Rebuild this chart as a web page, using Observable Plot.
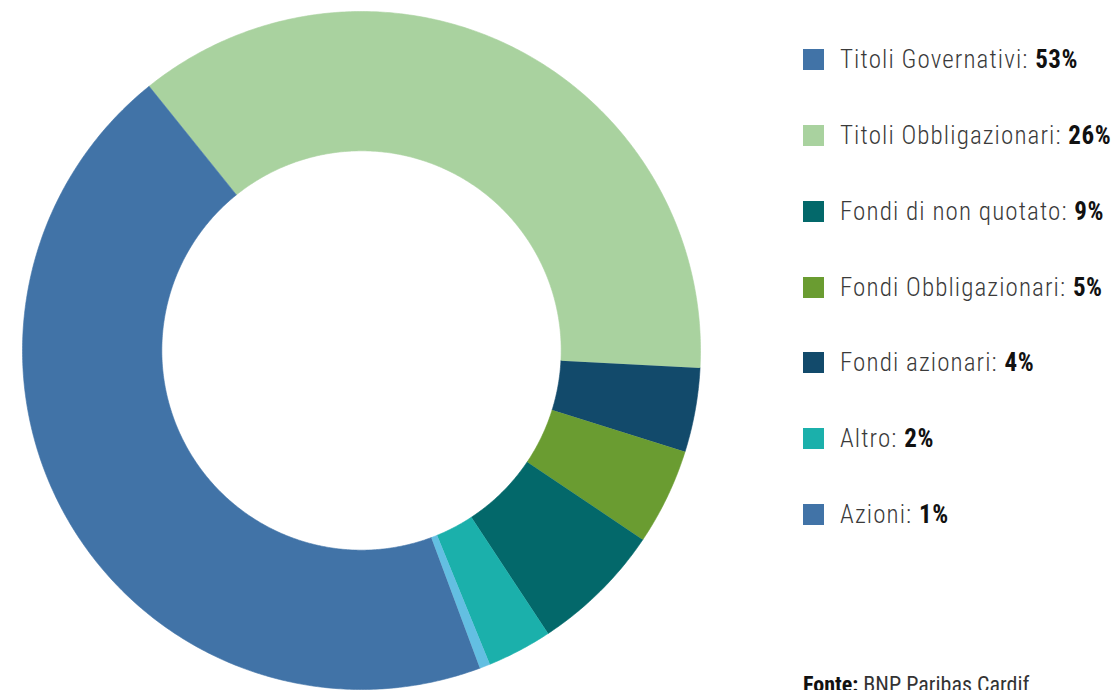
<!DOCTYPE html>
<html>
<head>
<meta charset="utf-8">
<script src="https://cdn.jsdelivr.net/npm/d3@7"></script>
<script src="https://cdn.jsdelivr.net/npm/@observablehq/plot@0.6"></script>
<style>
  html, body { margin: 0; padding: 0; background: #fff; }
  #wrap { position: relative; width: 1116px; height: 690px; overflow: hidden; }
  #chart { position: absolute; left: 0; top: 0; }
  .row { position: absolute; left: 803px; height: 22px; display: flex; align-items: center; white-space: nowrap;
         font-family: "Liberation Sans Narrow", "Roboto Condensed", "DejaVu Sans Condensed", sans-serif; font-size: 25px;
         font-weight: 300; letter-spacing: 1.1px; color: #3a3a3a; }
  .sw { width: 21px; height: 21px; margin-right: 16px; flex: none; }
  .row b { color: #111; font-weight: 700; letter-spacing: 0.6px; }
  #foot { position: absolute; left: 803px; top: 672px; white-space: nowrap;
          font-family: "Liberation Sans Narrow", "Roboto Condensed", "DejaVu Sans Condensed", sans-serif; font-size: 22px; color: #333; }
  #foot b { color: #111; }
</style>
</head>
<body>
<div id="wrap">
  <div id="chart"></div>
</div>
<script>
// Slices in clockwise order as drawn (shares read from the arcs, in %)
const sliceLabels = ["Titoli Obbligazionari", "Fondi azionari", "Fondi Obbligazionari", "Fondi di non quotato", "Altro", "Azioni", "Titoli Governativi"];
const sliceShares = [36.6, 4.0, 4.6, 6.3, 3.1, 0.5, 44.9];
const sliceColors = ["#a9d29f", "#124a6b", "#6a9c31", "#03686a", "#1bb0ab", "#63bfe2", "#4173a7"];
const startAngleDeg = -38.8;
const innerRatio = 0.589;

// Legend
const legendLabels = ["Titoli Governativi", "Titoli Obbligazionari", "Fondi di non quotato", "Fondi Obbligazionari", "Fondi azionari", "Altro", "Azioni"];
const legendPercents = ["53%", "26%", "9%", "5%", "4%", "2%", "1%"];
const legendColors = ["#4173a7", "#a9d29f", "#03686a", "#6a9c31", "#124a6b", "#1bb0ab", "#4173a7"];
const sourceLabel = "Fonte:";
const sourceText = "BNP Paribas Cardif";

// Build ring polygons from the shares
const total = d3.sum(sliceShares);
const pts = [];
let acc = 0;
sliceShares.forEach((v, i) => {
  const a0 = (startAngleDeg + acc / total * 360) * Math.PI / 180;
  acc += v;
  const a1 = (startAngleDeg + acc / total * 360) * Math.PI / 180;
  const n = Math.max(2, Math.ceil((a1 - a0) / (Math.PI / 360)));
  for (let k = 0; k <= n; k++) {
    const a = a0 + (a1 - a0) * k / n;
    pts.push({label: sliceLabels[i], x: Math.sin(a), y: Math.cos(a)});
  }
  for (let k = n; k >= 0; k--) {
    const a = a0 + (a1 - a0) * k / n;
    pts.push({label: sliceLabels[i], x: innerRatio * Math.sin(a), y: innerRatio * Math.cos(a)});
  }
});

const plot = Plot.plot({
  width: 1116,
  height: 690,
  marginLeft: 22,
  marginRight: 416,
  marginTop: 11,
  marginBottom: 1,
  x: {domain: [-1, 1], axis: null},
  y: {domain: [-1, 1], axis: null},
  color: {domain: sliceLabels, range: sliceColors},
  marks: [
    Plot.line(pts, {x: "x", y: "y", z: "label", fill: "label", stroke: "label", strokeWidth: 0.6, curve: "linear"})
  ]
});
document.getElementById("chart").appendChild(plot);

const wrap = document.getElementById("wrap");
const rowCenters = [59, 135, 211, 287, 362, 438, 514];
legendLabels.forEach((lab, i) => {
  const row = document.createElement("div");
  row.className = "row";
  row.style.top = (rowCenters[i] - 11) + "px";
  const sw = document.createElement("div");
  sw.className = "sw";
  sw.style.background = legendColors[i];
  row.appendChild(sw);
  const t = document.createElement("span");
  t.textContent = lab + ": ";
  const b = document.createElement("b");
  b.textContent = legendPercents[i];
  t.appendChild(b);
  row.appendChild(t);
  wrap.appendChild(row);
});
const foot = document.createElement("div");
foot.id = "foot";
const fb = document.createElement("b");
fb.textContent = sourceLabel;
foot.appendChild(fb);
foot.appendChild(document.createTextNode(" " + sourceText));
wrap.appendChild(foot);
</script>
</body>
</html>
